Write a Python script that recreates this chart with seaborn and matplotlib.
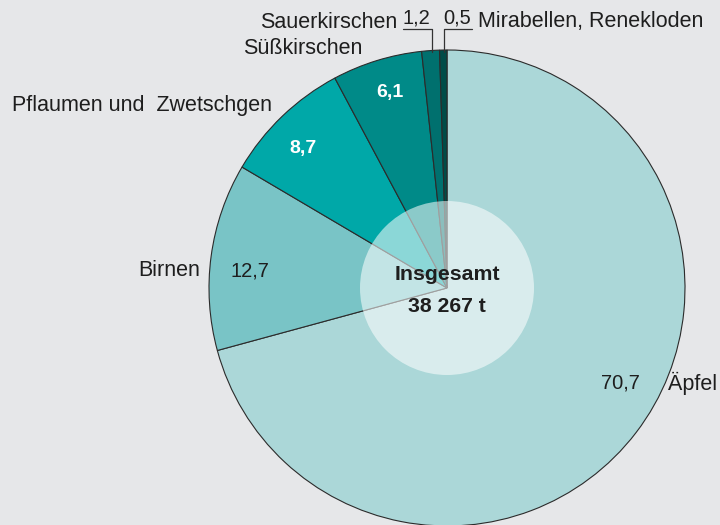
import matplotlib
matplotlib.use("Agg")
import matplotlib.pyplot as plt
import matplotlib.patches as mpatches
import seaborn as sns

# Anteile in % an der Gesamternte (38 267 t)
sorten = ["Äpfel", "Birnen", "Pflaumen und  Zwetschgen", "Süßkirschen",
          "Sauerkirschen", "Mirabellen, Renekloden"]
anteile = [70.7, 12.7, 8.7, 6.1, 1.2, 0.5]
werte_text = ["70,7", "12,7", "8,7", "6,1", "1,2", "0,5"]
farben = ["#abd7d8", "#79c4c6", "#00a8a8", "#008a88", "#00706e", "#004c48"]
gesamt = "Insgesamt\n38 267 t"

sns.set_style("white")
plt.rcParams['font.family'] = ['Liberation Sans', 'DejaVu Sans']

bg = "#e6e7e9"
fig = plt.figure(figsize=(7.2, 5.25), dpi=100, facecolor=bg)
ax = fig.add_axes([0, 0, 1, 1])
ax.set_facecolor(bg)

cx, cy, r = 447, 237, 238
ax.pie(anteile, colors=farben, startangle=90, counterclock=False,
       center=(cx, cy), radius=r, frame=True,
       wedgeprops=dict(edgecolor="#2b2b2b", linewidth=0.8))
ax.set_xlim(0, 720)
ax.set_ylim(0, 525)
ax.set_aspect("equal")
ax.axis("off")

# heller Innenkreis
ax.add_patch(mpatches.Circle((cx, cy), 87, facecolor="white", alpha=0.55,
                             edgecolor="none", zorder=5))
oben, unten = gesamt.split("\n")
ax.text(cx, cy + 13, oben, ha="center", va="center",
        fontsize=15.3, fontweight="bold", color="#1e1e1e", zorder=6)
ax.text(cx, cy - 18, unten, ha="center", va="center",
        fontsize=15.3, fontweight="bold", color="#1e1e1e", zorder=6)

fs = 15.5
fz = 14.5
tc = "#1e1e1e"
# Äpfel
ax.text(668, 142, sorten[0], ha="left", va="center", fontsize=fs, color=tc)
ax.text(640, 142, werte_text[0], ha="right", va="center", fontsize=fz, color=tc)
# Birnen
ax.text(200, 254, sorten[1], ha="right", va="center", fontsize=fs, color=tc)
ax.text(230, 254, werte_text[1], ha="left", va="center", fontsize=fz, color=tc)
# Pflaumen
ax.text(12, 420, sorten[2], ha="left", va="center", fontsize=fs, color=tc)
ax.text(303, 377, werte_text[2], ha="center", va="center", fontsize=14,
        fontweight="bold", color="white")
# Süßkirschen
ax.text(243, 477, sorten[3], ha="left", va="center", fontsize=fs, color=tc)
ax.text(390, 432, werte_text[3], ha="center", va="center", fontsize=14,
        fontweight="bold", color="white")
# Sauerkirschen
ax.text(397, 503, sorten[4], ha="right", va="center", fontsize=fs, color=tc)
ax.text(416, 507, werte_text[4], ha="center", va="center", fontsize=fz, color=tc)
ax.plot([403, 432, 432], [496, 496, 473], color="#333333", lw=0.9)
# Mirabellen
ax.text(478, 503, sorten[5], ha="left", va="center", fontsize=fs, color=tc)
ax.text(457, 507, werte_text[5], ha="center", va="center", fontsize=fz, color=tc)
ax.plot([472, 444, 444], [496, 496, 473], color="#333333", lw=0.9)

fig.savefig("out.png", dpi=100, facecolor=bg)
